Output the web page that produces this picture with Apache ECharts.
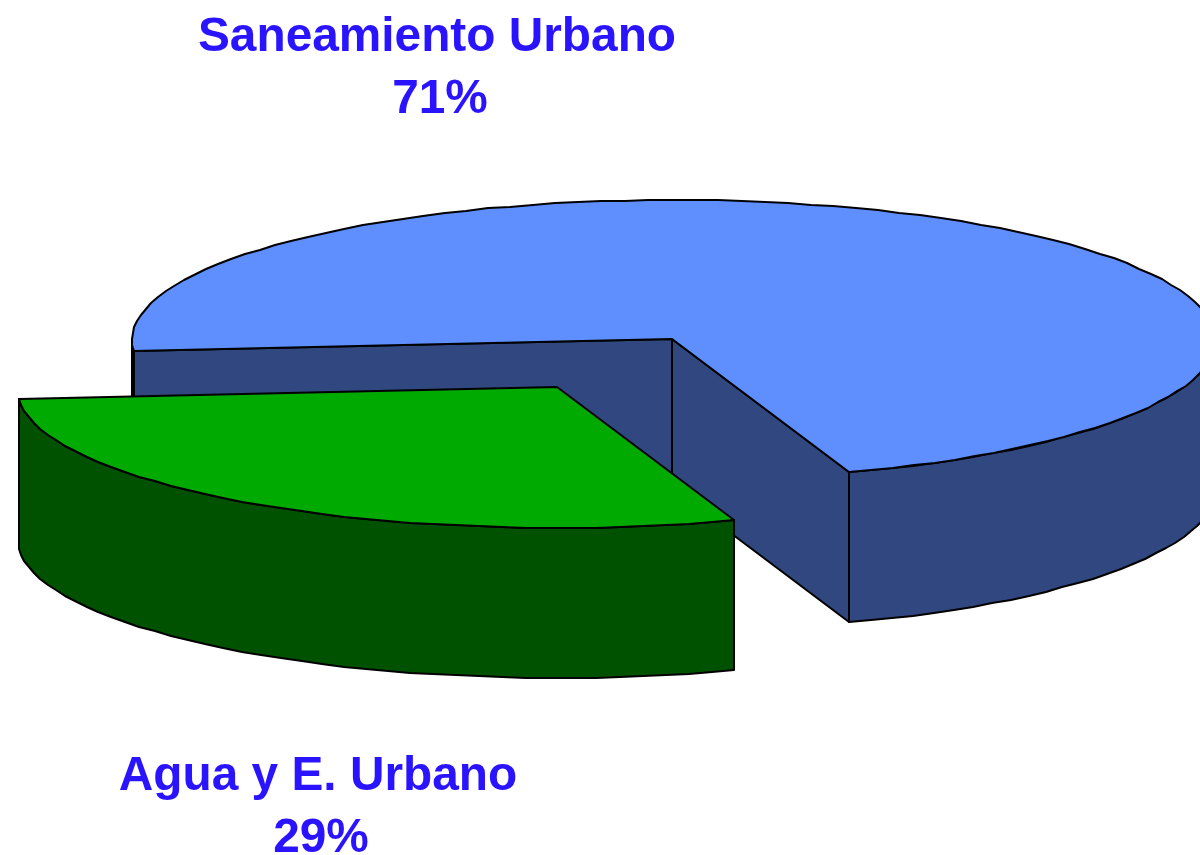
<!DOCTYPE html>
<html>
<head>
<meta charset="utf-8">
<style>html,body{margin:0;padding:0;background:#fff}#c{width:1200px;height:855px}</style>
<script src="https://cdn.jsdelivr.net/npm/echarts@6/dist/echarts.min.js"></script>
</head>
<body>
<div id="c"></div>
<script>
const categories = ['Saneamiento Urbano', 'Agua y E. Urbano'];
const values = [71, 29];
const topColors = ['#5F8FFF', '#00AA00'];
const sideColors = ['#30487F', '#005200'];
const textColor = '#2A14FF';

const cx = 673.5, cy = 340, rx = 541.5, ry = 140, depth = 150;
const apexCorrection = [-1.5, -1];
const startAngle = 175.5;
const explodeOffsets = [[0, 0], [-115, 48]];
const labelCenters = [[437, 38], [318, 777]];
const lineGap = 62;
const total = values.reduce((a, b) => a + b, 0);
const STEP = 2.5;
const rad = d => d * Math.PI / 180;

function renderItem(params, api) {
  const i = params.dataIndex;
  const v = api.value(0);
  let before = 0;
  for (let k = 0; k < i; k++) before += values[k];
  const a0 = startAngle + before / total * 360;
  const a1 = a0 + v / total * 360;
  const ox = cx + explodeOffsets[i][0];
  const oy = cy + explodeOffsets[i][1];
  const pt = a => [Math.round(ox + Math.cos(rad(a)) * rx), Math.round(oy + Math.sin(rad(a)) * ry)];
  const arc = (s, e) => {
    const pts = [];
    const n = Math.max(1, Math.ceil((e - s) / STEP));
    for (let k = 0; k <= n; k++) pts.push(pt(s + (e - s) * k / n));
    return pts;
  };
  const down = p => [p[0], p[1] + depth];
  const shape = (points, fill) => ({
    type: 'polygon',
    shape: { points },
    style: { fill, stroke: '#000', lineWidth: 2, lineJoin: 'round' }
  });
  const children = [];
  const side = sideColors[i];
  // outer wall: only the parts with the rim facing the viewer
  for (let t = 0; t <= 720; t += 360) {
    const s = Math.max(a0, t), e = Math.min(a1, t + 180);
    if (e > s) {
      const top = arc(s, e);
      children.push(shape(top.concat(top.map(down).reverse()), side));
    }
  }
  // cut faces towards the apex (the ones turned to the viewer)
  const apex = [ox + apexCorrection[0], oy + apexCorrection[1]];
  const face = a => {
    const p = pt(a);
    return shape([apex, p, down(p), down(apex)], side);
  };
  if (i === 0) {
    children.push(face(a0));
    children.push(face(a1));
  }
  // top
  children.push(shape([apex].concat(arc(a0, a1)), topColors[i]));
  // label
  const c = labelCenters[i];
  [categories[i], v + '%'].forEach((t, k) => {
    children.push({
      type: 'text',
      style: {
        x: c[0] + (k ? 3 : 0), y: c[1] + k * lineGap,
        text: t, fill: textColor,
        font: 'bold 47.8px "Liberation Sans", Arial, sans-serif',
        align: 'center', verticalAlign: 'middle'
      }
    });
  });
  return { type: 'group', children };
}

const chart = echarts.init(document.getElementById('c'), null, { renderer: 'canvas' });
chart.setOption({
  animation: false,
  backgroundColor: '#fff',
  series: [{
    type: 'custom',
    coordinateSystem: 'none',
    silent: true,
    renderItem,
    data: values.map((v, i) => ({ name: categories[i], value: [v] }))
  }]
});
</script>
</body>
</html>
